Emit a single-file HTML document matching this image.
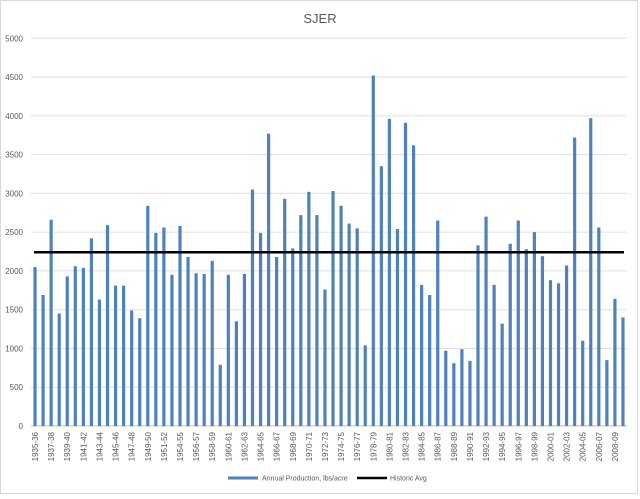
<!DOCTYPE html>
<html><head><meta charset="utf-8"><style>
body{margin:0;background:#fff;font-family:"Liberation Sans",Arial,sans-serif;}
svg text{font-family:"Liberation Sans",Arial,sans-serif;}
</style></head><body>
<svg id="chart" width="640" height="494" xmlns="http://www.w3.org/2000/svg">
<rect x="0.5" y="0.5" width="637" height="493" fill="#fff" stroke="#d9d9d9"/>
<text x="320" y="23" text-anchor="middle" font-size="13" fill="#595959">SJER</text>
<g id="grid"></g><g id="bars"></g><g id="xlabels"></g><g id="ylabels"></g>
<g>
<line x1="228" y1="478" x2="258" y2="478" stroke="#4f81bd" stroke-width="3"/>
<text x="262" y="480.5" font-size="7" fill="#595959">Annual Production, lbs/acre</text>
<line x1="357" y1="478" x2="387" y2="478" stroke="#000" stroke-width="2.5"/>
<text x="390" y="480.5" font-size="7" fill="#595959">Historic Avg</text>
</g>
</svg>
<script>
const startYears = [1935,1936,1937,1938,1939,1940,1941,1942,1943,1944,1945,1946,1947,1948,1949,1950,1951,1953,1954,1955,1956,1957,1958,1959,1960,1961,1962,1963,1964,1965,1966,1967,1968,1969,1970,1971,1972,1973,1974,1975,1976,1977,1978,1979,1980,1981,1982,1983,1984,1985,1986,1987,1988,1989,1990,1991,1992,1993,1994,1995,1996,1997,1998,1999,2000,2001,2002,2003,2004,2005,2006,2007,2008,2009];
const production = [2050,1690,2660,1450,1930,2060,2040,2420,1630,2590,1810,1810,1490,1390,2840,2490,2560,1950,2580,2180,1970,1960,2130,790,1950,1350,1960,3050,2490,3770,2180,2930,2290,2720,3020,2720,1760,3030,2840,2610,2550,1040,4520,3350,3960,2540,3910,3620,1820,1690,2650,970,810,990,840,2330,2700,1820,1320,2350,2650,2280,2500,2190,1880,1840,2070,3720,1100,3970,2560,850,1640,1400];
const historicAvg = 2240;
const yTicks = [0,500,1000,1500,2000,2500,3000,3500,4000,4500,5000];
const categories = startYears.map(y => y + "-" + String((y+1)%100).padStart(2,"0"));
const NS="http://www.w3.org/2000/svg";
const L=31, R=627, T=38.3, B=426, YMAX=5000;
const band=(R-L)/categories.length;
const xc=i=>L+band*(i+0.5);
const y=v=>B-(v/YMAX)*(B-T);
function mk(tag,attrs,parent){const e=document.createElementNS(NS,tag);for(const k in attrs)e.setAttribute(k,attrs[k]);parent.appendChild(e);return e;}
const grid=document.getElementById('grid'),ylab=document.getElementById('ylabels');
yTicks.forEach(t=>{
  const g=mk('line',{x1:L,x2:R,y1:y(t),y2:y(t),stroke:t===0?'#bfbfbf':'#e0e0e0','stroke-width':1},grid);
  
  
  const tx=mk('text',{x:23,y:y(t)+3,'text-anchor':'end','font-size':8,fill:'#595959'},ylab);
  tx.textContent=t;
  
  
});
const bars=document.getElementById('bars'),xl=document.getElementById('xlabels');
production.forEach((v,i)=>{
  const r=mk('rect',{x:xc(i)-1.6,y:y(v),width:3.2,height:B-y(v),fill:'#4f81bd'},bars);
  
  
});
categories.forEach((c,i)=>{
  if(i%2) return;
  const tx=mk('text',{transform:`translate(${xc(i)+3},432) rotate(-90)`,'text-anchor':'end','font-size':8,fill:'#595959'},xl);
  tx.textContent=c;
  
  
});
const avg=mk('line',{x1:xc(0)-1,x2:xc(categories.length-1)+1,y1:y(historicAvg),y2:y(historicAvg),stroke:'#000','stroke-width':2.5},document.getElementById('chart'));


</script>
</body></html>
